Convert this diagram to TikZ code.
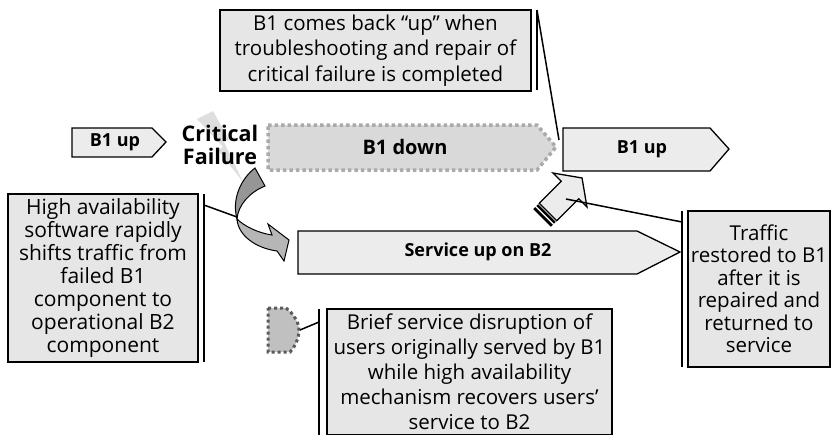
\documentclass[tikz,border=0pt]{standalone}
\usepackage{fontspec}
\setmainfont{Open Sans}
\usepackage{xcolor}
\usepackage{tikz}
\usetikzlibrary{calc}

\definecolor{notegray}{RGB}{230,230,230}
\definecolor{stagegray}{RGB}{236,236,236}
\definecolor{downgray}{RGB}{217,217,217}
\definecolor{dotgray}{RGB}{170,170,170}
\definecolor{boltgray}{RGB}{222,222,222}
\definecolor{twistdark}{RGB}{150,150,150}
\definecolor{twistlight}{RGB}{182,182,182}
\definecolor{gapgray}{RGB}{192,192,192}
\definecolor{gapline}{RGB}{90,90,90}

\tikzset{
  note/.style={draw=black,line width=1.8pt,fill=notegray,inner sep=0pt,align=center},
  stage/.style={draw=black,line width=1.3pt,fill=stagegray},
  stagetext/.style={font=\bfseries\fontsize{18}{21}\selectfont},
  accent/.style={line width=2pt},
  pointer/.style={line width=1.5pt},
}

\begin{document}
\begin{tikzpicture}[x=1pt, y=-1pt]
\useasboundingbox (0,0) rectangle (832,434);

% lightning bolt behind the failure label
\fill[boltgray] (197,119) -- (213,111) -- (229,140) -- (224,142) -- (243,182) -- (218,150) -- (223,147) -- cycle;

% B1 timeline
\draw[stage] (72,128) -- (152,128) -- (166,142) -- (152,157) -- (72,157) -- cycle;
\draw[fill=downgray,draw=dotgray,line width=3.5pt,dash pattern=on 3.5pt off 3pt] (268,125) -- (537,125) -- (556,147) -- (537,170) -- (268,170) -- cycle;
\draw[stage] (563,128) -- (710,128) -- (729,149) -- (710,171) -- (563,171) -- cycle;

% B2 timeline
\draw[stage] (298,231) -- (637,231) -- (680,252) -- (637,274) -- (298,274) -- cycle;

\node[stagetext] (upA) at (115,142) {B1 up};
\node[stagetext,font=\bfseries\fontsize{20}{22}\selectfont] (down) at (405,147) {B1 down};
\node[stagetext] (upB) at (642,149) {B1 up};
\node[stagetext] (serv) at (478,252) {Service up on B2};

\node[font=\bfseries\fontsize{21.5}{23}\selectfont,align=center] (crit) at (220,145) {Critical\\Failure};

% twisted failover arrow
\draw[fill=twistdark,line width=1pt] (255,168) .. controls (243,177) and (231,197) .. (237,219)
  .. controls (238,205) and (250,192) .. (265,186) -- cycle;
\draw[fill=twistlight,line width=1pt] (237,219) .. controls (244,226) and (258,233) .. (272,235)
  -- (268,224) -- (289,240) -- (284,261) -- (277,251)
  .. controls (255,248) and (238,235) .. (237,219) -- cycle;

% striped arrow back to B1
\begin{scope}[shift={(542,218)}, rotate=45]
\fill[black] (0,-12.4) rectangle (3,12.4);
\fill[black] (4.5,-12.4) rectangle (7,12.4);
\draw[fill=stagegray,line width=1.3pt] (8.5,-12.4) -- (39.6,-12.4) -- (39.6,-24) -- (56.6,0) -- (39.6,24) -- (39.6,12.4) -- (8.5,12.4) -- cycle;
\end{scope}

% service gap marker
\draw[fill=gapgray,draw=gapline,line width=3pt,dash pattern=on 3pt off 3pt] (268,308) -- (286,308)
  .. controls (294,314) and (299,323) .. (299,330) .. controls (299,338) and (295,347) .. (290,352)
  -- (268,352) -- cycle;

% callouts
\node[note,minimum width=311pt,minimum height=81pt,font=\fontsize{20.5}{25.5}\selectfont] (back) at (375.5,50.5)
  {B1 comes back “up” when\\troubleshooting and repair of\\critical failure is completed};
\node[note,minimum width=190pt,minimum height=168pt,font=\fontsize{21}{23}\selectfont] (shift) at (103,278)
  {High availability\\software rapidly\\shifts traffic from\\failed B1\\component to\\operational B2\\component};
\node[note,minimum width=142pt,minimum height=156pt,font=\fontsize{20.5}{22.5}\selectfont] (restore) at (759,289)
  {Traffic\\restored to B1\\after it is\\repaired and\\returned to\\service};
\node[note,minimum width=285pt,minimum height=126pt,font=\fontsize{20.5}{25}\selectfont] (brief) at (469.5,372)
  {Brief service disruption of\\users originally served by B1\\while high availability\\mechanism recovers users’\\service to B2};

\draw[accent] (537,10) -- (537,90);
\draw[accent] (204,194) -- (204,362);
\draw[accent] (682,211) -- (682,367);
\draw[accent] (319,309) -- (319,440);

\coordinate (backbar) at (537,10);
\coordinate (backtip) at (559,140);
\coordinate (shiftbar) at (204,205);
\coordinate (shifttip) at (237,217);
\coordinate (restorebar) at (682,222);
\coordinate (restoretip) at (566,199);
\coordinate (briefbar) at (319,322);
\coordinate (brieftip) at (300,330);

\draw[pointer] (backbar) -- (backtip);
\draw[pointer] (shiftbar) -- (shifttip);
\draw[pointer] (restorebar) -- (restoretip);
\draw[pointer] (briefbar) -- (brieftip);

\end{tikzpicture}
\end{document}
